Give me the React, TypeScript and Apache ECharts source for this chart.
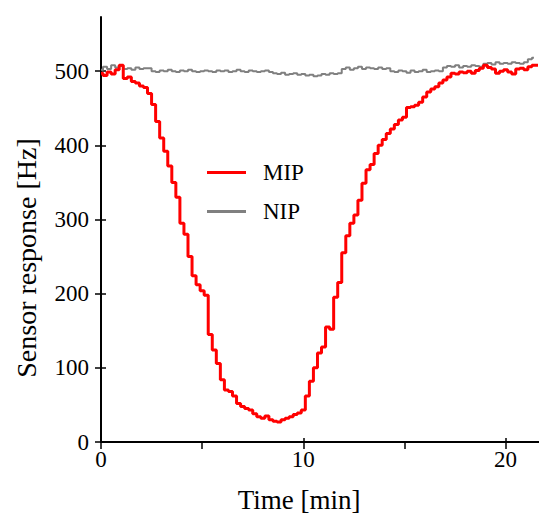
import React, { useEffect, useRef } from "react";
import * as echarts from "echarts";

// Sampling interval of the recorded traces (minutes)
const sampleStep = 0.2;

// MIP sensor response [Hz], sampled every 0.2 min from t = 0
const mipValues = [
  497, 494, 499, 496, 502, 508, 490, 492, 486, 484,
  480, 478, 470, 455, 432, 410, 392, 372, 350, 330,
  295, 280, 250, 224, 212, 204, 198, 145, 124, 106,
  84, 70, 68, 62, 52, 48, 45, 43, 38, 34,
  32, 35, 30, 28, 27, 30, 32, 34, 37, 39,
  43, 62, 82, 100, 120, 128, 155, 152, 195, 215,
  255, 278, 295, 306, 326, 349, 367, 374, 389, 400,
  408, 416, 422, 428, 434, 438, 451, 452, 454, 458,
  465, 472, 476, 479, 484, 488, 492, 497, 496, 499,
  498, 500, 497, 501, 504, 508, 505, 503, 497, 500,
  502, 499, 496, 503, 504, 502, 506, 508, 508,
];

// NIP sensor response [Hz], sampled every 0.2 min from t = 0
const nipValues = [
  502, 506, 503, 508, 505, 507,
  503, 504, 502, 505, 503, 504, 504,
  500, 499, 501, 500, 502, 500, 499, 501, 500, 502, 500, 499, 500, 501, 500, 499, 501,
  500, 501, 499, 500, 502, 500, 499, 501, 500, 499, 500, 501, 499,
  497, 496, 498, 495, 496, 497, 495, 496, 494, 495, 493, 494, 496, 495, 497, 496, 497,
  503, 505, 502, 504, 506, 503, 505, 504, 503, 505, 503, 504,
  500, 499, 501, 500, 498, 501, 499, 500, 502, 499, 500, 501, 500,
  505, 507, 506, 508, 505, 507, 506, 508, 507, 506,
  510, 511, 509, 512, 510, 511, 510, 512, 511, 510,
  512, 516, 518,
];

const xMajorTicks = [0, 10, 20];
const xAllTicks = [0, 5, 10, 15, 20];
const yTicks = [0, 100, 200, 300, 400, 500];

const seriesNames = ["MIP", "NIP"];
const xTitle = "Time [min]";
const yTitle = "Sensor response [Hz]";

const FONT = "Liberation Serif";

export default function App() {
  const ref = useRef<HTMLDivElement>(null);

  useEffect(() => {
    if (!ref.current) return;
    const chart = echarts.init(ref.current, null, { renderer: "svg" });

    const toPairs = (vals: number[]) =>
      vals.map((v, i) => [Math.round(i * sampleStep * 10) / 10, v]);

    const xMin = 0;
    const xMax = 21.65;
    const yMin = 0;
    const yMax = 573;

    chart.setOption({
      animation: false,
      backgroundColor: "#ffffff",
      grid: { left: 101, right: 0, top: 17, bottom: 74 },
      graphic: [
        {
          type: "text",
          x: 299,
          y: 500,
          style: {
            text: xTitle,
            fontFamily: FONT,
            fontSize: 27,
            fill: "#000",
            align: "center",
            verticalAlign: "middle",
          },
        },
        {
          type: "text",
          x: 26,
          y: 258,
          rotation: Math.PI / 2,
          style: {
            text: yTitle,
            fontFamily: FONT,
            fontSize: 28,
            fill: "#000",
            align: "center",
            verticalAlign: "middle",
          },
        },
      ],
      legend: {
        orient: "vertical",
        left: 207,
        top: 161,
        padding: 0,
        itemWidth: 39,
        itemHeight: 3,
        itemGap: 16,
        icon: "rect",
        data: seriesNames,
        textStyle: {
          fontFamily: FONT,
          fontSize: 23,
          lineHeight: 23,
          color: "#000",
          padding: [0, 0, 0, 12],
        },
      },
      xAxis: [
        {
          type: "value",
          min: xMin,
          max: xMax,
          position: "bottom",
          axisLine: { show: true, onZero: false, lineStyle: { color: "#000", width: 2 } },
          axisTick: {
            show: true,
            inside: false,
            length: 7,
            customValues: xAllTicks,
            lineStyle: { color: "#000", width: 1.5 },
          },
          axisLabel: {
            show: true,
            customValues: xMajorTicks,
            margin: 6,
            fontFamily: FONT,
            fontSize: 23,
            color: "#000",
          },
          splitLine: { show: false },
        },
        {
          type: "value",
          min: xMin,
          max: xMax,
          position: "bottom",
          axisLine: { show: false, onZero: false },
          axisTick: {
            show: true,
            inside: true,
            length: 4,
            customValues: xMajorTicks,
            lineStyle: { color: "#000", width: 1.5 },
          },
          axisLabel: { show: false },
          splitLine: { show: false },
        },
      ],
      yAxis: [
        {
          type: "value",
          min: yMin,
          max: yMax,
          position: "left",
          axisLine: { show: true, onZero: false, lineStyle: { color: "#000", width: 2 } },
          axisTick: {
            show: true,
            inside: false,
            length: 6,
            customValues: yTicks,
            lineStyle: { color: "#000", width: 1.5 },
          },
          axisLabel: {
            show: true,
            customValues: yTicks,
            margin: 12,
            fontFamily: FONT,
            fontSize: 23,
            color: "#000",
          },
          splitLine: { show: false },
        },
        {
          type: "value",
          min: yMin,
          max: yMax,
          position: "left",
          axisLine: { show: false, onZero: false },
          axisTick: {
            show: true,
            inside: true,
            length: 5,
            customValues: yTicks,
            lineStyle: { color: "#000", width: 1.5 },
          },
          axisLabel: { show: false },
          splitLine: { show: false },
        },
      ],
      series: [
        {
          name: seriesNames[1],
          type: "line",
          step: "middle",
          showSymbol: false,
          symbol: "none",
          data: toPairs(nipValues),
          lineStyle: { color: "#808080", width: 2 },
          itemStyle: { color: "#808080" },
        },
        {
          name: seriesNames[0],
          type: "line",
          step: "middle",
          showSymbol: false,
          symbol: "none",
          data: toPairs(mipValues),
          lineStyle: { color: "#ff0000", width: 3 },
          itemStyle: { color: "#ff0000" },
        },
      ],
    });

    return () => chart.dispose();
  }, []);

  return (
    <div
      ref={ref}
      style={{ position: "fixed", left: 0, top: 0, width: 539, height: 516 }}
    />
  );
}
